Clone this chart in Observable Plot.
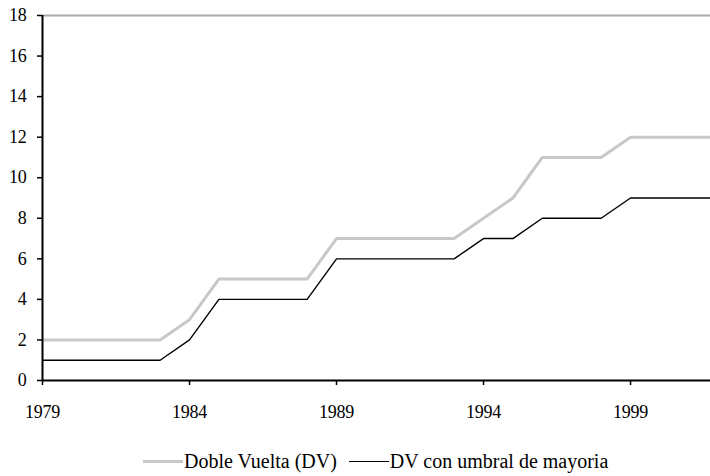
<!DOCTYPE html>
<html>
<head>
<meta charset="utf-8">
<script src="https://cdn.jsdelivr.net/npm/d3@7"></script>
<script src="https://cdn.jsdelivr.net/npm/@observablehq/plot@0.6"></script>
<style>
  body { margin: 0; background: #fff; font-family: "Liberation Serif", "Times New Roman", serif; }
  #chart { position: relative; width: 710px; height: 476px; overflow: hidden; }
  #legend { position: absolute; top: 450px; left: 143px; display: flex; align-items: center; font-size: 20px; line-height: 22px; color: #000; white-space: nowrap; }
  .sw { display: inline-block; width: 40px; margin-right: 1px; }
</style>
</head>
<body>
<div id="chart"></div>
<script>
const years = [1979,1980,1981,1982,1983,1984,1985,1986,1987,1988,1989,1990,1991,1992,1993,1994,1995,1996,1997,1998,1999,2000,2001,2002];
const dobleVuelta = [2,2,2,2,2,3,5,5,5,5,7,7,7,7,7,8,9,11,11,11,12,12,12,12];
const dvUmbral    = [1,1,1,1,1,2,4,4,4,4,6,6,6,6,6,7,7,8,8,8,9,9,9,9];
const seriesNames = ["Doble Vuelta (DV)", "DV con umbral de mayoria"];
const xTicks = [1979,1984,1989,1994,1999];
const yTicks = [0,2,4,6,8,10,12,14,16,18];

const rows = [];
years.forEach((y, i) => {
  rows.push({year: y, value: dobleVuelta[i], s: seriesNames[0]});
  rows.push({year: y, value: dvUmbral[i], s: seriesNames[1]});
});

const plot = Plot.plot({
  width: 710,
  height: 432,
  marginTop: 15,
  marginBottom: 52,
  marginLeft: 42,
  marginRight: 0,
  style: {fontFamily: "'Liberation Serif', 'Times New Roman', serif", fontSize: "18px", color: "#000", background: "#fff"},
  x: {domain: [1979, 2001.72], label: null},
  y: {domain: [0, 18], label: null},
  marks: [
    Plot.ruleY([18], {stroke: "#aaaaaa", strokeWidth: 2}),
    Plot.line(rows.filter(d => d.s === seriesNames[0]), {x: "year", y: "value", stroke: "#c8c8c8", strokeWidth: 3, clip: true}),
    Plot.line(rows.filter(d => d.s === seriesNames[1]), {x: "year", y: "value", stroke: "#000", strokeWidth: 1.4, clip: true}),
    Plot.ruleX([1979], {stroke: "#000", strokeWidth: 2}),
    Plot.ruleY([0], {stroke: "#000", strokeWidth: 2}),
    Plot.axisX({ticks: xTicks, tickFormat: "d", tickSize: 5, tickPadding: 20, strokeWidth: 1.5, label: null}),
    Plot.axisY({ticks: yTicks, tickSize: 5, tickPadding: 11, strokeWidth: 1.5, label: null})
  ]
});
plot.querySelectorAll("text").forEach(t => t.setAttribute("letter-spacing", "-0.3"));
document.getElementById("chart").appendChild(plot);

const legend = document.createElement("div");
legend.id = "legend";
const colors = ["#c8c8c8", "#000"];
const widths = [3, 1.4];
seriesNames.forEach((n, i) => {
  const sw = document.createElement("span");
  sw.className = "sw";
  sw.style.borderTop = widths[i] + "px solid " + colors[i];
  if (i === 1) sw.style.marginLeft = "12px";
  legend.appendChild(sw);
  const tx = document.createElement("span");
  tx.textContent = n;
  legend.appendChild(tx);
});
document.getElementById("chart").appendChild(legend);
</script>
</body>
</html>
